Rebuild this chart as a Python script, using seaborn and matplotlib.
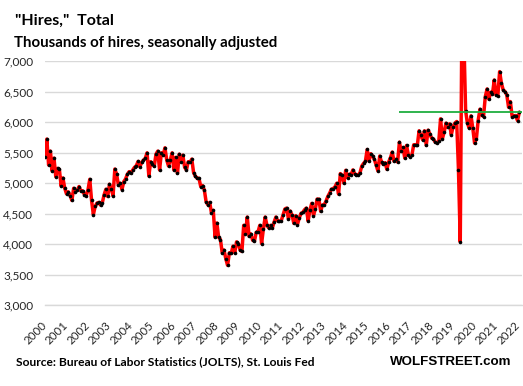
import numpy as np
import pandas as pd
import matplotlib
matplotlib.use("Agg")
import matplotlib.pyplot as plt
import seaborn as sns
from matplotlib.ticker import FuncFormatter

# Monthly hires (thousands, seasonally adjusted), Dec 2000 .. Jan 2023
hires_2000_2006 = [
    5430, 5720, 5295, 5523, 5197, 5408, 5104, 5240, 5224, 4952,
    5083, 4914, 4822, 4855, 4795, 4714, 4914, 4860, 4882, 4942,
    4871, 4871, 4811, 4795, 4887, 5061, 4714, 4480, 4616, 4670,
    4681, 4638, 4676, 4806, 4898, 4779, 4980, 4904, 4790, 5229,
    5143, 4963, 4996, 4893, 5023, 5066, 5143, 5186, 5159, 5213,
    5257, 5284, 5354, 5267, 5338, 5376, 5403, 5495, 5115, 5349,
    5305, 5273, 5473, 5523,
]
hires_2006_2011 = [
    5213, 5495, 5457, 5577, 5376, 5278, 5376, 5495, 5213, 5420,
    5159, 5473, 5349, 5457, 5257, 5213, 5349, 5338, 5392, 5170,
    5110, 5077, 5077, 4942, 4958, 4887, 4692, 4643, 4681, 4507,
    4551, 4111, 4344, 4111, 4073, 3856, 3900, 3758, 3650, 3856,
    3845, 3964, 3856, 4035, 4008, 3900, 3878, 4306, 4170, 4442,
    4127, 4165, 4062, 4046, 4192, 4198, 4306, 4008, 4246, 4442,
    4306, 4263, 4306, 4263, 4360, 4442, 4382, 4371,
]
hires_2011_2017 = [
    4383, 4480, 4573, 4589, 4410, 4540, 4475, 4339, 4464, 4317,
    4421, 4502, 4518, 4562, 4589, 4377, 4556, 4665, 4464, 4573,
    4736, 4736, 4535, 4638, 4643, 4703, 4779, 4833, 4898, 4909,
    4936, 4996, 4817, 5154, 5127, 4996, 5208, 5089, 5143, 5137,
    5214, 5154, 5132, 5127, 5170, 5279, 5322, 5355, 5550, 5360,
    5480, 5442, 5387, 5295, 5197, 5442, 5344, 5306, 5333, 5224,
    5344, 5415, 5507, 5355, 5387, 5344,
]
hires_2017_2023 = [
    5670, 5518, 5583, 5409, 5616, 5463, 5430, 5463, 5627, 5627,
    5616, 5856, 5779, 5708, 5856, 5616, 5866, 5806, 5736, 5725,
    5670, 5659, 5681, 6052, 5725, 5834, 5981, 5910, 5970, 5790,
    5926, 5981, 6008, 5218, 4035, 8000, 7400, 6182, 5981, 5899,
    6101, 5899, 5654, 5725, 6024, 6210, 6117, 6090, 6417, 6542,
    6373, 6488, 6460, 6689, 6444, 6433, 6826, 6635, 6526, 6499,
    6444, 6242, 6335, 6090, 6101, 6106, 6024, 6160,
]
hires = hires_2000_2006 + hires_2006_2011 + hires_2011_2017 + hires_2017_2023

year_labels = [str(y) for y in range(2000, 2023)]   # labels at December of each year
y_ticks = [3000, 3500, 4000, 4500, 5000, 5500, 6000, 6500, 7000]
ref_level = 6160
ref_start_month = 198

W, H = 523, 386
sns.set_theme(style="white")
plt.rcParams["font.family"] = ["Lato", "DejaVu Sans"]

fig = plt.figure(figsize=(W / 100, H / 100), dpi=100)
ax = fig.add_axes([44.5 / W, 1 - 305 / H, (522 - 44.5) / W, 244 / H])

df = pd.DataFrame({"month": np.arange(len(hires)), "hires": hires})
sns.lineplot(data=df, x="month", y="hires", ax=ax, color="#ff0000",
             linewidth=2.5, marker="o", markersize=2.6,
             markerfacecolor="black", markeredgecolor="black",
             markeredgewidth=0, zorder=3)

ax.hlines(ref_level, ref_start_month, 270, color="#1fae3f", lw=1.3, zorder=4)

ax.set_ylim(y_ticks[0], y_ticks[-1])
ax.set_xlim(-0.3, 266.5)
ax.set_yticks(y_ticks)
ax.yaxis.set_major_formatter(FuncFormatter(lambda v, p: f"{v:,.0f}"))
ax.set_xticks([12 * i for i in range(len(year_labels))])
ax.set_xticklabels(year_labels, rotation=45, ha="right", va="center",
                   rotation_mode="anchor")

ax.yaxis.grid(True, color="#d9d9d9", lw=1)
ax.xaxis.grid(False)
ax.set_axisbelow(True)
for s in ["left", "right", "top"]:
    ax.spines[s].set_visible(False)
ax.spines["bottom"].set_color("#d9d9d9")
ax.spines["bottom"].set_linewidth(1)
ax.set_xlabel("")
ax.set_ylabel("")
ax.tick_params(axis="x", length=4, color="#d9d9d9", width=1, direction="out",
               pad=9, labelsize=8.3, labelcolor="#262626")
ax.tick_params(axis="y", length=0, pad=8, labelsize=8.5, labelcolor="#262626")

def px(x, y):
    return x / W, 1 - y / H

fig.text(*px(15, 21), '"Hires,"  Total', fontsize=11.5, fontweight="bold",
         va="center", ha="left", color="black")
fig.text(*px(14, 43), "Thousands of hires, seasonally adjusted", fontsize=10.8,
         fontweight="bold", va="center", ha="left", color="black")
fig.text(*px(16, 362), "Source: Bureau of Labor Statistics (JOLTS), St. Louis Fed",
         fontsize=8.65, fontweight="bold", va="center", ha="left", color="black")
fig.text(*px(511, 362), "WOLFSTREET.com", fontsize=9.6, fontweight="bold",
         va="center", ha="right", color="black", family=["Liberation Sans"])

fig.savefig("out.png", dpi=100)
